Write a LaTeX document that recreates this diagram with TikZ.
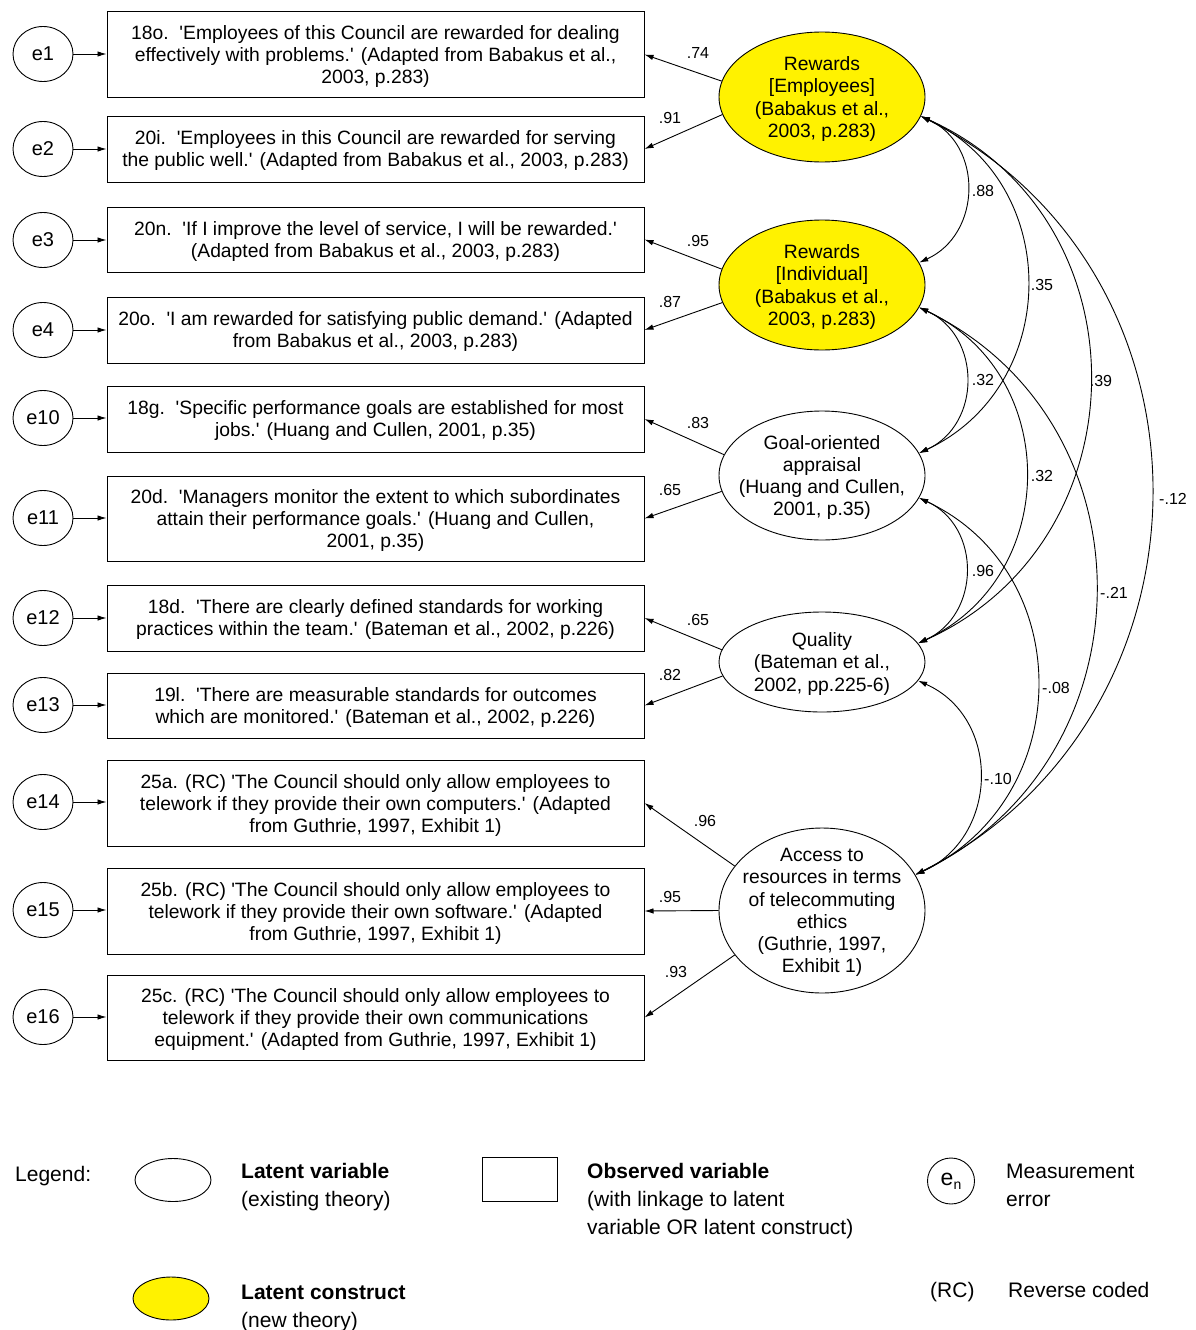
\documentclass[tikz,border=0pt]{standalone}
\usepackage{fontspec}
\newfontfamily\arial{Liberation Sans}
\usetikzlibrary{arrows.meta,shapes.geometric}
\begin{document}
\begin{tikzpicture}[x=1pt,y=-1pt,font=\arial,
  box/.style={draw, line width=1pt, minimum width=537pt, inner sep=0pt, align=center, font=\arial\fontsize{19.3}{22}\selectfont},
  btxt/.style={align=center, inner sep=0pt, yshift=-2pt, font=\arial\fontsize{19.3}{22}\selectfont},
  err/.style={draw, ellipse, line width=0.9pt, minimum width=60pt, minimum height=55pt, inner sep=0pt, font=\arial\fontsize{20}{24}\selectfont},
  lat/.style={draw, ellipse, line width=0.9pt, minimum width=206pt, inner sep=0pt},
  con/.style={lat, fill=yellow},
  ltxt/.style={align=center, inner sep=0pt, yshift=-2pt, font=\arial\fontsize{19.3}{22.3}\selectfont},
  load/.style={-{Latex[length=9pt,width=5.5pt]}, line width=0.9pt},
  cov/.style={{Latex[length=9pt,width=5.5pt]}-{Latex[length=9pt,width=5.5pt]}, line width=0.9pt},
  num/.style={inner sep=0pt, font=\arial\fontsize{16}{18}\selectfont},
  leg/.style={anchor=base west, inner sep=0pt, font=\arial\fontsize{21}{28}\selectfont},
  legb/.style={leg, font=\arial\bfseries\fontsize{21}{28}\selectfont},
]
\useasboundingbox (0,0) rectangle (1195,1330);

% observed variables
\node[box, minimum height=85pt] (B1) at (375.5,54.5) {};
\node[btxt] (B1t) at (B1) {18o.\ \ 'Employees of this Council are rewarded for dealing\\effectively with problems.' (Adapted from Babakus et al.,\\2003, p.283)};
\node[box, minimum height=66pt] (B2) at (375.5,149) {};
\node[btxt] (B2t) at (B2) {20i.\ \ 'Employees in this Council are rewarded for serving\\the public well.' (Adapted from Babakus et al., 2003, p.283)};
\node[box, minimum height=65pt] (B3) at (375.5,239.5) {};
\node[btxt] (B3t) at (B3) {20n.\ \ 'If I improve the level of service, I will be rewarded.'\\(Adapted from Babakus et al., 2003, p.283)};
\node[box, minimum height=66pt] (B4) at (375.5,330) {};
\node[btxt] (B4t) at (B4) {20o.\ \ 'I am rewarded for satisfying public demand.' (Adapted\\from Babakus et al., 2003, p.283)};
\node[box, minimum height=66pt] (B5) at (375.5,419) {};
\node[btxt] (B5t) at (B5) {18g.\ \ 'Specific performance goals are established for most\\jobs.' (Huang and Cullen, 2001, p.35)};
\node[box, minimum height=85pt] (B6) at (375.5,518.5) {};
\node[btxt] (B6t) at (B6) {20d.\ \ 'Managers monitor the extent to which subordinates\\attain their performance goals.' (Huang and Cullen,\\2001, p.35)};
\node[box, minimum height=66pt] (B7) at (375.5,618) {};
\node[btxt] (B7t) at (B7) {18d.\ \ 'There are clearly defined standards for working\\practices within the team.' (Bateman et al., 2002, p.226)};
\node[box, minimum height=65pt] (B8) at (375.5,705.5) {};
\node[btxt] (B8t) at (B8) {19l.\ \ 'There are measurable standards for outcomes\\which are monitored.' (Bateman et al., 2002, p.226)};
\node[box, minimum height=86pt] (B9) at (375.5,803) {};
\node[btxt] (B9t) at (B9) {25a. (RC) 'The Council should only allow employees to\\telework if they provide their own computers.' (Adapted\\from Guthrie, 1997, Exhibit 1)};
\node[box, minimum height=86pt] (B10) at (375.5,911) {};
\node[btxt] (B10t) at (B10) {25b. (RC) 'The Council should only allow employees to\\telework if they provide their own software.' (Adapted\\from Guthrie, 1997, Exhibit 1)};
\node[box, minimum height=85pt] (B11) at (375.5,1017.5) {};
\node[btxt] (B11t) at (B11) {25c. (RC) 'The Council should only allow employees to\\telework if they provide their own communications\\equipment.' (Adapted from Guthrie, 1997, Exhibit 1)};

% errors
\foreach \n/\b/\y in {e1/B1/54,e2/B2/149,e3/B3/240,e4/B4/330,e10/B5/418,e11/B6/518,e12/B7/618,e13/B8/705,e14/B9/802,e15/B10/910,e16/B11/1017}{
  \node[err] (\n) at (43,\y) {\n};
  \draw[load] (\n) -- (\n -| \b.west);
}

% latent variables
\node[con, minimum height=130pt] (RE) at (822,97) {};
\node[ltxt] (REt) at (RE) {Rewards\\{[Employees]}\\(Babakus et al.,\\2003, p.283)};
\node[con, minimum height=130pt] (RI) at (822,285) {};
\node[ltxt] (RIt) at (RI) {Rewards\\{[Individual]}\\(Babakus et al.,\\2003, p.283)};
\node[lat, minimum height=129pt] (GO) at (822,475.5) {};
\node[ltxt] (GOt) at (GO) {Goal-oriented\\appraisal\\(Huang and Cullen,\\2001, p.35)};
\node[lat, minimum height=100pt] (Q) at (822,662) {};
\node[ltxt] (Qt) at (Q) {Quality\\(Bateman et al.,\\2002, pp.225-6)};
\node[lat, minimum height=165pt] (A) at (822,910.5) {};
\node[ltxt] (At) at (A) {Access to\\resources in terms\\of telecommuting\\ethics\\(Guthrie, 1997,\\Exhibit 1)};

% loadings
\draw[load] (RE.171) -- (B1.east);
\draw[load] (RE.190) -- (B2.east);
\draw[load] (RI.171) -- (B3.east);
\draw[load] (RI.190) -- (B4.east);
\draw[load] (GO.168) -- (B5.east);
\draw[load] (GO.189) -- (B6.east);
\draw[load] (Q.173) -- (B7.east);
\draw[load] (Q.188) -- (B8.east);
\draw[load] (A.153) -- (B9.east);
\draw[load] (A.west) -- (B10.east);
\draw[load] (A.207) -- (B11.east);

\node[num] (l1) at (698,53) {.74};
\node[num] (l2) at (670,118) {.91};
\node[num] (l3) at (698,241) {.95};
\node[num] (l4) at (670,302) {.87};
\node[num] (l5) at (698,423) {.83};
\node[num] (l6) at (670,490) {.65};
\node[num] (l7) at (698,620) {.65};
\node[num] (l8) at (670,675) {.82};
\node[num] (l9) at (705,821) {.96};
\node[num] (l10) at (670,897) {.95};
\node[num] (l11) at (676,972) {.93};

% covariances
\draw[cov] (RE.-11.5) .. controls +(62.6,28.5) and +(62.6,-28.5) .. (RI.13);
\draw[cov] (RE.-11.5) .. controls +(142.7,66.6) and +(142.7,-66.6) .. (GO.13);
\draw[cov] (RE.-11.5) .. controls +(226.9,102) and +(226.9,-102) .. (Q.11);
\draw[cov] (RE.-11.5) .. controls +(310.7,157) and +(310.7,-157) .. (A.21);
\draw[cov] (RI.-13) .. controls +(62.6,28.5) and +(62.6,-28.5) .. (GO.13);
\draw[cov] (RI.-13) .. controls +(142.7,66.6) and +(142.7,-66.6) .. (Q.11);
\draw[cov] (RI.-13) .. controls +(237.5,114.9) and +(237.5,-114.9) .. (A.21);
\draw[cov] (GO.-13) .. controls +(62.6,28.5) and +(62.6,-28.5) .. (Q.11);
\draw[cov] (GO.-13) .. controls +(159.8,75.2) and +(159.8,-75.2) .. (A.21);
\draw[cov] (Q.-11) .. controls +(83.7,37.4) and +(83.7,-37.4) .. (A.21);

\node[num] (c1) at (983,191) {.88};
\node[num] (c2) at (1042,285) {.35};
\node[num] (c3) at (1101,381) {.39};
\node[num] (c4) at (1173,499) {-.12};
\node[num] (c5) at (983,380) {.32};
\node[num] (c6) at (1042,476) {.32};
\node[num] (c7) at (1114,593) {-.21};
\node[num] (c8) at (983,571) {.96};
\node[num] (c9) at (1056,688) {-.08};
\node[num] (c10) at (998,779) {-.10};

% legend
\node[leg] (legT) at (15,1181) {Legend:};
\node[draw, ellipse, line width=0.9pt, minimum width=76pt, minimum height=43pt, inner sep=0pt] (legLat) at (173,1180) {};
\node[legb] (legLat1) at (241,1178) {Latent variable};
\node[leg] (legLat2) at (241,1206) {(existing theory)};
\node[draw, line width=0.9pt, minimum width=75pt, minimum height=44pt, inner sep=0pt] (legObs) at (519.5,1179) {};
\node[legb] (legObs1) at (587,1178) {Observed variable};
\node[leg] (legObs2) at (587,1206) {(with linkage to latent};
\node[leg] (legObs3) at (587,1234) {variable OR latent construct)};
\node[draw, ellipse, line width=0.9pt, minimum width=47pt, minimum height=46pt, inner sep=0pt, font=\arial\fontsize{23}{24}\selectfont] (legErr) at (951,1181) {e\raisebox{-0.35ex}{\fontsize{14}{14}\selectfont n}};
\node[leg] (legErr1) at (1006,1178) {Measurement};
\node[leg] (legErr2) at (1006,1206) {error};
\node[draw, ellipse, fill=yellow, line width=0.9pt, minimum width=76pt, minimum height=43pt, inner sep=0pt] (legCon) at (171,1298.5) {};
\node[legb] (legCon1) at (241,1299) {Latent construct};
\node[leg] (legCon2) at (241,1327) {(new theory)};
\node[leg] (legRC) at (930,1297) {(RC)};
\node[leg] (legRC1) at (1008,1297) {Reverse coded};
\end{tikzpicture}
\end{document}
